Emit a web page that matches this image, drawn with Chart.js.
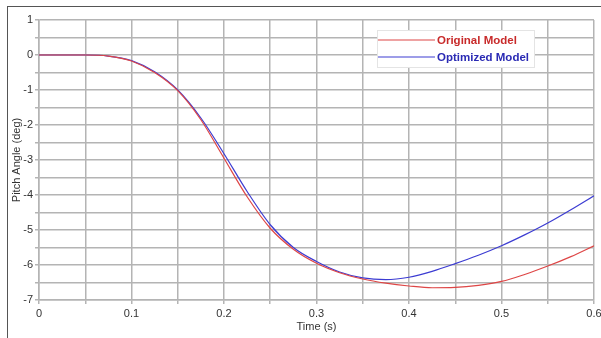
<!DOCTYPE html>
<html>
<head>
<meta charset="utf-8">
<script src="https://cdn.jsdelivr.net/npm/chart.js@4"></script>
<style>
  html, body { margin: 0; padding: 0; background: #fff; overflow: hidden; }
  #wrap { position: relative; width: 601px; height: 338px; overflow: hidden; }
  #frame { position: absolute; left: 7px; top: 6px; width: 640px; height: 400px;
           border-left: 1.5px solid #555; border-top: 1.5px solid #555; }
  canvas { position: absolute; left: 0; top: 0; }
</style>
</head>
<body>
<div id="wrap">
  <div id="frame"></div>
  <canvas id="chart" width="630" height="338"></canvas>
</div>
<script>
// time samples (s)
const times = [0, 0.025, 0.05, 0.075, 0.1, 0.125, 0.15, 0.175, 0.2, 0.225, 0.25, 0.275,
               0.3, 0.325, 0.35, 0.375, 0.4, 0.425, 0.45, 0.475, 0.5, 0.525, 0.55, 0.575, 0.6];
// pitch angle (deg)
const originalModel = [0, 0, 0, -0.03, -0.17, -0.5, -1.02, -1.85, -2.95, -4.05, -4.95, -5.55,
                       -5.95, -6.22, -6.4, -6.52, -6.6, -6.65, -6.64, -6.58, -6.47, -6.27, -6.03, -5.76, -5.45];
const optimizedModel = [0, 0, 0, -0.03, -0.16, -0.48, -1.0, -1.8, -2.82, -3.9, -4.85, -5.5,
                        -5.9, -6.2, -6.37, -6.42, -6.35, -6.18, -5.96, -5.72, -5.45, -5.14, -4.8, -4.42, -4.02];
const seriesNames = ['Original Model', 'Optimized Model'];

const toPoints = (ys) => times.map((t, i) => ({ x: t, y: ys[i] }));

const gridColor = '#b4b4b4';
const tickFont = { family: 'Arial, "Liberation Sans", sans-serif', size: 11 };

// legend box drawn on the plot like in the original figure
const boxLegend = {
  id: 'boxLegend',
  afterDraw(chart) {
    const ctx = chart.ctx;
    const x0 = 377, y0 = 30, w = 158, h = 38;
    ctx.save();
    ctx.fillStyle = '#fff';
    ctx.fillRect(x0, y0, w, h);
    ctx.strokeStyle = '#e4e4e4';
    ctx.lineWidth = 1;
    ctx.strokeRect(x0 + 0.5, y0 + 0.5, w - 1, h - 1);
    const textColors = ['#c82a2a', '#2a2ab4'];
    chart.data.datasets.forEach((ds, i) => {
      const y = y0 + 10 + i * 17;
      ctx.strokeStyle = ds.borderColor;
      ctx.lineWidth = 1.2;
      ctx.beginPath();
      ctx.moveTo(x0 + 1, y);
      ctx.lineTo(x0 + 58, y);
      ctx.stroke();
      ctx.fillStyle = textColors[i];
      ctx.font = 'bold 11.5px Arial, "Liberation Sans", sans-serif';
      ctx.textBaseline = 'middle';
      ctx.fillText(ds.label, x0 + 60, y + 1);
    });
    ctx.restore();
  }
};

new Chart(document.getElementById('chart').getContext('2d'), {
  type: 'scatter',
  data: {
    datasets: [
      {
        label: seriesNames[0],
        data: toPoints(originalModel),
        showLine: true,
        borderColor: 'rgb(222, 70, 70)',
        borderWidth: 1.2,
        pointRadius: 0,
        cubicInterpolationMode: 'monotone'
      },
      {
        label: seriesNames[1],
        data: toPoints(optimizedModel),
        showLine: true,
        borderColor: 'rgb(60, 60, 210)',
        borderWidth: 1.2,
        pointRadius: 0,
        cubicInterpolationMode: 'monotone'
      }
    ]
  },
  options: {
    responsive: false,
    animation: false,
    layout: { padding: { left: 0, top: 20, right: 36, bottom: 0 } },
    plugins: {
      legend: { display: false },
      tooltip: { enabled: false }
    },
    scales: {
      x: {
        type: 'linear',
        min: 0,
        max: 0.6,
        afterFit(scale) { scale.height = 38; },
        ticks: {
          stepSize: 0.05,
          padding: 3,
          color: '#333',
          font: tickFont,
          maxRotation: 0,
          autoSkip: false,
          callback(v) {
            const k = Math.round(v * 20);
            if (k % 2 !== 0) return '';
            return k === 0 ? '0' : (k / 20).toFixed(1);
          }
        },
        grid: { color: gridColor, lineWidth: 1.5, tickLength: 4 },
        border: { color: gridColor, width: 1.5 },
        title: {
          display: true,
          text: 'Time (s)',
          color: '#333',
          font: tickFont,
          padding: { top: 0, bottom: 4 }
        }
      },
      y: {
        min: -7,
        max: 1,
        afterFit(scale) { scale.width = 39; },
        ticks: {
          stepSize: 0.5,
          padding: 2,
          color: '#333',
          font: tickFont,
          callback(v) {
            return Number.isInteger(v) ? String(v) : '';
          }
        },
        grid: { color: gridColor, lineWidth: 1.5, tickLength: 4 },
        border: { color: gridColor, width: 1.5 },
        title: {
          display: true,
          text: 'Pitch Angle (deg)',
          color: '#333',
          font: tickFont,
          padding: { top: 10, bottom: 0 }
        }
      }
    }
  },
  plugins: [boxLegend]
});
</script>
</body>
</html>
